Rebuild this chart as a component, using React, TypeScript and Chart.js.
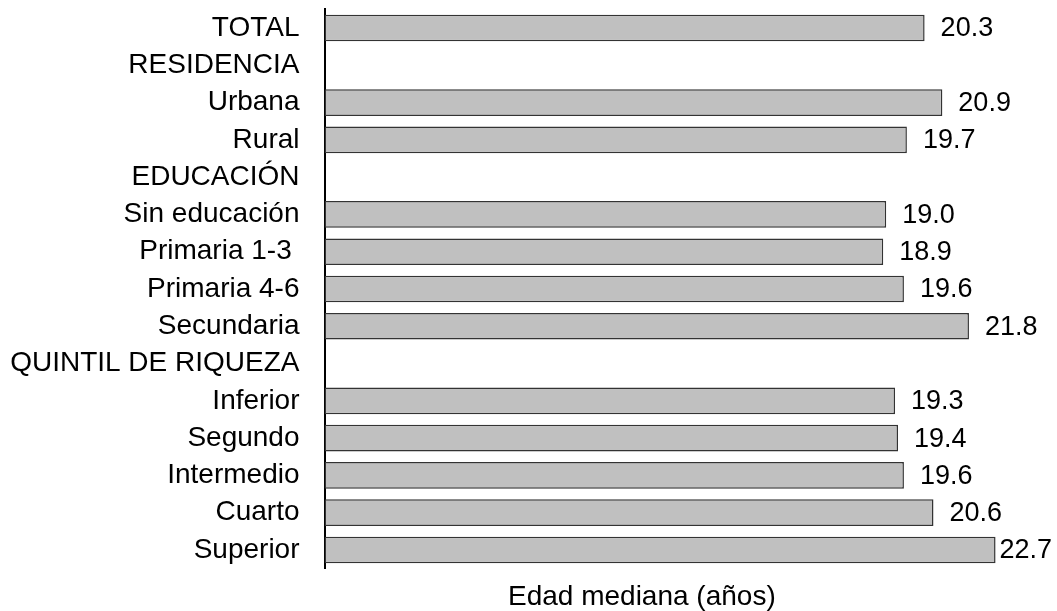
import React, { useEffect, useRef } from "react";
import { Chart, registerables } from "chart.js";

Chart.register(...registerables);

const categories: string[] = [
  "TOTAL",
  "RESIDENCIA",
  "Urbana",
  "Rural",
  "EDUCACIÓN",
  "Sin educación",
  "Primaria 1-3 ",
  "Primaria 4-6",
  "Secundaria",
  "QUINTIL DE RIQUEZA",
  "Inferior",
  "Segundo",
  "Intermedio",
  "Cuarto",
  "Superior",
];

const medianAge: (number | null)[] = [
  20.3, null, 20.9, 19.7, null, 19.0, 18.9, 19.6, 21.8, null, 19.3, 19.4, 19.6, 20.6, 22.7,
];

const axisTitle = "Edad mediana (años)";

const FONT = "'Liberation Sans', Arial, sans-serif";
const LABEL_SIZE = 28;
const VALUE_SIZE = 27;
const TITLE_SIZE = 28;

const valueLabels = {
  id: "valueLabels",
  afterDatasetsDraw(chart: any) {
    const ctx = chart.ctx;
    const meta = chart.getDatasetMeta(0);
    ctx.save();
    ctx.font = `${VALUE_SIZE}px ${FONT}`;
    ctx.fillStyle = "#000";
    ctx.textAlign = "left";
    ctx.textBaseline = "middle";
    meta.data.forEach((bar: any, i: number) => {
      const v = medianAge[i];
      if (v === null || v === undefined) return;
      const text = v.toFixed(1);
      const w = ctx.measureText(text).width;
      const x = Math.min(bar.x + 16, chart.width - w - 5);
      ctx.fillText(text, x, bar.y + 1);
    });
    ctx.restore();
  },
};

const bottomTitle = {
  id: "bottomTitle",
  afterDraw(chart: any) {
    const ctx = chart.ctx;
    ctx.save();
    ctx.font = `${TITLE_SIZE}px ${FONT}`;
    ctx.fillStyle = "#000";
    ctx.textAlign = "left";
    ctx.textBaseline = "middle";
    ctx.fillText(axisTitle, 508, 597);
    ctx.restore();
  },
};

export default function App() {
  const canvasRef = useRef<HTMLCanvasElement | null>(null);

  useEffect(() => {
    if (!canvasRef.current) return;
    Chart.defaults.font.family = FONT;
    const chart = new Chart(canvasRef.current, {
      type: "bar",
      data: {
        labels: categories,
        datasets: [
          {
            data: medianAge,
            backgroundColor: "#c0c0c0",
            borderColor: "#333333",
            borderWidth: 1.5,
            borderSkipped: false,
            categoryPercentage: 1,
            barPercentage: 0.715,
          },
        ],
      },
      options: {
        indexAxis: "y",
        animation: false,
        responsive: true,
        maintainAspectRatio: false,
        layout: { padding: { left: 0, right: 23, top: 9.4, bottom: 42.4 } },
        plugins: {
          legend: { display: false },
          tooltip: { enabled: false },
          title: { display: false },
        },
        scales: {
          x: {
            display: false,
            min: 0,
            max: 24,
          },
          y: {
            grid: { display: false, drawTicks: false },
            border: { display: true, color: "#000", width: 2 },
            ticks: {
              autoSkip: false,
              color: "#000",
              padding: 25,
              font: { size: LABEL_SIZE, family: FONT },
            },
            afterFit(scale: any) {
              scale.width = 324.5;
              scale.paddingTop = 0;
              scale.paddingBottom = 0;
            },
          },
        },
      },
      plugins: [valueLabels, bottomTitle],
    });
    return () => chart.destroy();
  }, []);

  return (
    <div style={{ position: "fixed", left: 0, top: 0, width: 1057, height: 611, background: "#fff" }}>
      <canvas ref={canvasRef} />
    </div>
  );
}
